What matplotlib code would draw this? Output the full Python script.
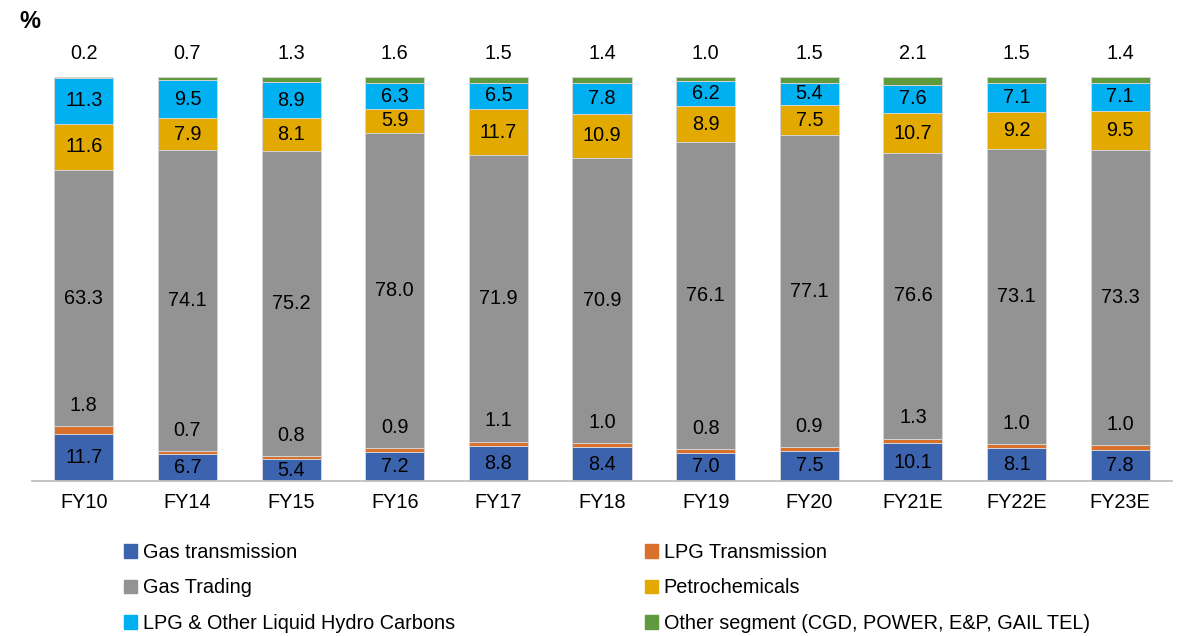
import numpy as np
import matplotlib.pyplot as plt
from matplotlib.patches import Patch

plt.rcParams['font.family'] = ['Liberation Sans', 'DejaVu Sans']

years = ['FY10', 'FY14', 'FY15', 'FY16', 'FY17', 'FY18', 'FY19', 'FY20',
         'FY21E', 'FY22E', 'FY23E']
gas_transmission = [11.7, 6.7, 5.4, 7.2, 8.8, 8.4, 7.0, 7.5, 10.1, 8.1, 7.8]
lpg_transmission = [1.8, 0.7, 0.8, 0.9, 1.1, 1.0, 0.8, 0.9, 1.3, 1.0, 1.0]
gas_trading = [63.3, 74.1, 75.2, 78.0, 71.9, 70.9, 76.1, 77.1, 76.6, 73.1, 73.3]
petrochemicals = [11.6, 7.9, 8.1, 5.9, 11.7, 10.9, 8.9, 7.5, 10.7, 9.2, 9.5]
lpg_lhc = [11.3, 9.5, 8.9, 6.3, 6.5, 7.8, 6.2, 5.4, 7.6, 7.1, 7.1]
other_segment = [0.2, 0.7, 1.3, 1.6, 1.5, 1.4, 1.0, 1.5, 2.1, 1.5, 1.4]

series = [
    ('Gas transmission', gas_transmission, '#3C64AE'),
    ('LPG Transmission', lpg_transmission, '#D9702B'),
    ('Gas Trading', gas_trading, '#939393'),
    ('Petrochemicals', petrochemicals, '#E2A900'),
    ('LPG & Other Liquid Hydro Carbons', lpg_lhc, '#00B0F0'),
    ('Other segment (CGD, POWER, E&P, GAIL TEL)', other_segment, '#5F9A3E'),
]

FS = 14.3
x = np.arange(len(years))
totals = np.sum([np.array(s[1]) for s in series], axis=0)

fig = plt.figure(figsize=(11.79, 6.36), dpi=100)
ax = fig.add_axes([32/1179, 155/636, 1140/1179, 404/636])

bottom = np.zeros(len(years))
for i, (name, vals, col) in enumerate(series):
    vals = np.array(vals)
    pct = vals / totals * 100
    ax.bar(x, pct, 0.57, bottom=bottom, color=col, edgecolor='#d4d4d4',
           linewidth=0.7, label=name)
    for j in range(len(years)):
        lbl = '%.1f' % vals[j]
        if i == 1:
            ax.annotate(lbl, (x[j], bottom[j] + pct[j]), xytext=(0, 15),
                        textcoords='offset points', ha='center', va='center',
                        fontsize=FS)
        elif i == 5:
            ax.annotate(lbl, (x[j], bottom[j] + pct[j]), xytext=(0, 17),
                        textcoords='offset points', ha='center', va='center',
                        fontsize=FS)
        else:
            ax.text(x[j], bottom[j] + pct[j]/2, lbl, ha='center', va='center',
                    fontsize=FS)
    bottom += pct

ax.set_xlim(-0.5, len(years) - 0.5)
ax.set_ylim(0, 100)
ax.set_xticks(x)
ax.set_xticklabels(years, fontsize=FS)
ax.tick_params(axis='x', length=0, pad=9)
ax.set_yticks([])
for s in ['top', 'right', 'left']:
    ax.spines[s].set_visible(False)
ax.spines['bottom'].set_color('#bfbfbf')
ax.spines['bottom'].set_linewidth(1.3)

fig.text(19/1179, 1 - 21/636, '%', fontsize=17, fontweight='bold',
         ha='left', va='center')

handles = [Patch(color=c, label=n) for n, v, c in series]
col1 = [handles[0], handles[2], handles[4]]
col2 = [handles[1], handles[3], handles[5]]
opts = dict(loc='upper left', frameon=False, fontsize=FS, borderpad=0,
            borderaxespad=0, handlelength=0.65, handleheight=0.65,
            handletextpad=0.3, labelspacing=0.83)
fig.legend(handles=col1, bbox_to_anchor=(124/1179, 1 - 543/636), **opts)
fig.legend(handles=col2, bbox_to_anchor=(645/1179, 1 - 543/636), **opts)

fig.savefig('out.png', dpi=100)
